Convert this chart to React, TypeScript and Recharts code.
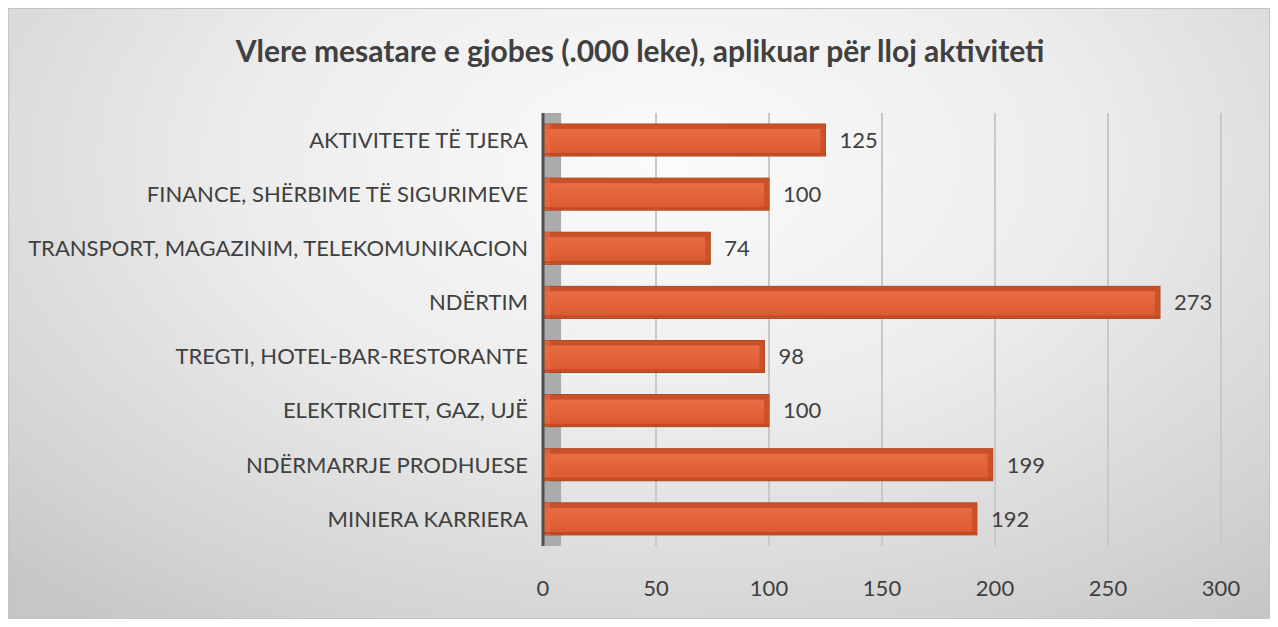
import React from 'react';
import { BarChart, Bar, XAxis, YAxis, CartesianGrid, LabelList, ReferenceArea } from 'recharts';

const categories = [
  'AKTIVITETE TË TJERA',
  'FINANCE, SHËRBIME TË SIGURIMEVE',
  'TRANSPORT, MAGAZINIM, TELEKOMUNIKACION',
  'NDËRTIM',
  'TREGTI, HOTEL-BAR-RESTORANTE',
  'ELEKTRICITET, GAZ, UJË',
  'NDËRMARRJE PRODHUESE',
  'MINIERA KARRIERA',
];
const values = [125, 100, 74, 273, 98, 100, 199, 192];
const xTicks = [0, 50, 100, 150, 200, 250, 300];
const title = 'Vlere mesatare e gjobes (.000 leke), aplikuar për lloj aktiviteti';

const data = categories.map((c, i) => ({ name: c, value: values[i] }));

const FONT = 'Lato, "DejaVu Sans", sans-serif';

const Bar3D = (props: any) => {
  const { x, y, width, height } = props;
  if (width <= 0) return null;
  const d = 5;
  return (
    <g>
      <rect x={x} y={y} width={width} height={height} fill="url(#barGrad)" stroke="#a8401c" strokeWidth={1} />
      <rect x={x} y={y} width={width} height={d} fill="#c24c24" opacity={0.85} />
      <rect x={x + width - d} y={y} width={d} height={height} fill="#c9502a" opacity={0.9} />
      <rect x={x} y={y} width={d + 2} height={height} fill="#e56a40" opacity={0.7} />
      <line x1={x} y1={y + height - 2} x2={x + width} y2={y + height - 2} stroke="#c24a22" strokeWidth={2} />
    </g>
  );
};

export default function App() {
  return (
    <div
      style={{
        width: 1262,
        height: 611,
        boxSizing: 'border-box',
        border: '1px solid #c4c4c4',
        background: 'radial-gradient(ellipse 75% 95% at 52% 25%, #fbfbfb 0%, #ececec 45%, #d2d2d2 85%, #c6c6c6 100%)',
        position: 'relative',
        fontFamily: FONT,
      }}
    >
      <div
        style={{
          position: 'absolute',
          top: 23,
          left: 0,
          width: 1262,
          textAlign: 'center',
          fontSize: 30,
          lineHeight: '36px',
          fontWeight: 700,
          color: '#404040',
        }}
      >
        {title}
      </div>
      <BarChart
        width={1260}
        height={609}
        data={data}
        layout="vertical"
        margin={{ top: 104, right: 48, bottom: 22, left: 0 }}
        barCategoryGap={22}
      >
        <defs>
          <linearGradient id="barGrad" x1="0" y1="0" x2="0" y2="1">
            <stop offset="0%" stopColor="#ea7047" />
            <stop offset="50%" stopColor="#e3643b" />
            <stop offset="100%" stopColor="#d9582f" />
          </linearGradient>
        </defs>
        <CartesianGrid horizontal={false} vertical stroke="#c8c8c8" strokeWidth={2} />
        <XAxis
          type="number"
          domain={[0, 300]}
          ticks={xTicks}
          axisLine={false}
          tickLine={false}
          tickMargin={28}
          height={50}
          tick={{ fill: '#404040', fontSize: 22, fontFamily: FONT }}
        />
        <YAxis
          type="category"
          dataKey="name"
          width={534}
          axisLine={{ stroke: '#505050', strokeWidth: 3 }}
          tickLine={false}
          tickMargin={9}
          tick={{ fill: '#404040', fontSize: 22, fontFamily: FONT }}
          interval={0}
        />
        <ReferenceArea x1={0} x2={8} fill="#ababab" fillOpacity={1} stroke="none" ifOverflow="visible" />
        <Bar dataKey="value" shape={<Bar3D />} isAnimationActive={false} barSize={32}>
          <LabelList dataKey="value" position="right" offset={14} fill="#404040" fontSize={22} fontFamily={FONT} />
        </Bar>
      </BarChart>
    </div>
  );
}
